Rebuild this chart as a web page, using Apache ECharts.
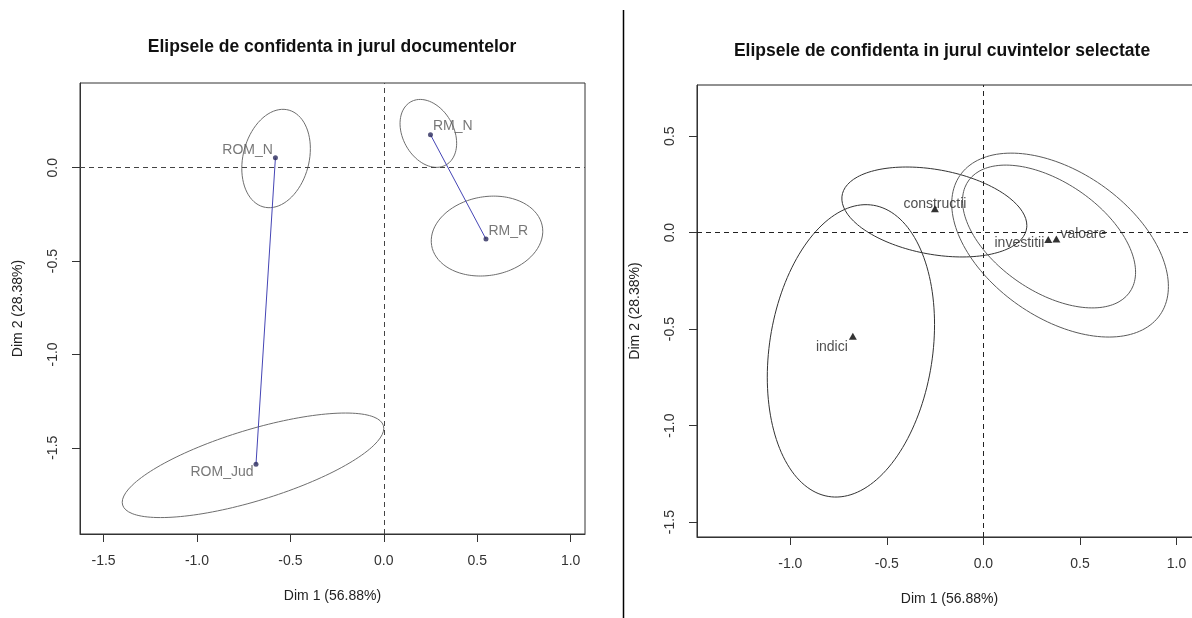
<!DOCTYPE html>
<html>
<head>
<meta charset="utf-8">
<script src="https://cdn.jsdelivr.net/npm/echarts@6/dist/echarts.min.js"></script>
<style>
html,body{margin:0;padding:0;background:#fff;overflow:hidden;width:1192px;height:618px;}
#c{width:1215px;height:618px;}
</style>
</head>
<body>
<div id="c"></div>
<script>
// ---------- Left panel: documents ----------
const docNames = ['ROM_N', 'RM_N', 'RM_R', 'ROM_Jud'];
const docDim1 = [-0.580, 0.250, 0.547, -0.684];
const docDim2 = [0.054, 0.177, -0.382, -1.589];
// confidence ellipses: centre, half-width, half-height, correlation
const docEllCx = [-0.5765, 0.2385, 0.5525, -0.700];
const docEllCy = [0.0495, 0.184, -0.366, -1.594];
const docEllHx = [0.1835, 0.1515, 0.2985, 0.700];
const docEllHy = [0.2635, 0.182, 0.214, 0.280];
const docEllR = [0.20, -0.29, 0.12, 0.707];
const docLinks = [['ROM_N', 'ROM_Jud'], ['RM_N', 'RM_R']];

// ---------- Right panel: selected words ----------
const wordNames = ['constructii', 'investitii', 'valoare', 'indici'];
const wordDim1 = [-0.251, 0.336, 0.378, -0.676];
const wordDim2 = [0.124, -0.036, -0.033, -0.537];
const wordEllCx = [-0.254, 0.340, 0.397, -0.686];
const wordEllCy = [0.107, -0.020, -0.0645, -0.6125];
const wordEllHx = [0.479, 0.448, 0.561, 0.433];
const wordEllHy = [0.233, 0.370, 0.4765, 0.7575];
const wordEllR = [-0.30, -0.50, -0.45, 0.18];

// ---------- Axis ticks & texts ----------
const xTicksLeft = [-1.5, -1.0, -0.5, 0.0, 0.5, 1.0];
const yTicksLeft = [-1.5, -1.0, -0.5, 0.0];
const xTicksRight = [-1.0, -0.5, 0.0, 0.5, 1.0];
const yTicksRight = [-1.5, -1.0, -0.5, 0.0, 0.5];
const titleLeft = 'Elipsele de confidenta in jurul documentelor';
const titleRight = 'Elipsele de confidenta in jurul cuvintelor selectate';
const xName = 'Dim 1 (56.88%)';
const yName = 'Dim 2 (28.38%)';

// ---------- helpers ----------
function ellipse(cx, cy, hx, hy, r) {
  const pts = [];
  const s = Math.sqrt(1 - r * r);
  const n = 160;
  for (let i = 0; i <= n; i++) {
    const t = 2 * Math.PI * i / n;
    pts.push([cx + hx * Math.cos(t), cy + hy * (r * Math.cos(t) + s * Math.sin(t))]);
  }
  return pts;
}
const FONT = "'Liberation Sans', Arial, sans-serif";

// label placement (styles)
const docLabelPos = {
  'ROM_N': {position: 'left', distance: 0, offset: [0, -8]},
  'RM_N': {position: 'right', distance: 0, offset: [0, -9]},
  'RM_R': {position: 'right', distance: 0, offset: [0, -8]},
  'ROM_Jud': {position: 'left', distance: 0, offset: [0, 8]}
};
const wordLabelPos = {
  'constructii': {position: 'inside', offset: [0, -5]},
  'investitii': {position: 'left', distance: 0, offset: [0, 4]},
  'valoare': {position: 'right', distance: 0, offset: [0, -5]},
  'indici': {position: 'left', distance: 1, offset: [0, 11]}
};

function valueAxis(gridIndex, min, max, ticks, isX) {
  const ax = {
    type: 'value', gridIndex, min, max,
    splitLine: {show: false},
    axisLine: {show: true, onZero: false, lineStyle: {color: '#333', width: 1}},
    axisTick: {show: true, inside: false, length: 8, customValues: ticks, lineStyle: {color: '#333', width: 1}},
    axisLabel: {
      show: true, customValues: ticks, formatter: v => Number(v).toFixed(1),
      color: '#333', fontFamily: FONT, fontSize: 14, margin: 20
    },
    name: isX ? xName : yName,
    nameLocation: 'middle',
    nameGap: 55,
    nameTextStyle: {color: '#222', fontFamily: FONT, fontSize: 14}
  };
  if (!isX) { ax.axisLabel.rotate = 90; ax.nameRotate = 90; }
  return ax;
}

const series = [];
const zeroLines = (color) => ({
  silent: true, symbol: 'none', animation: false,
  label: {show: false},
  lineStyle: {type: [5, 4], color, width: 1},
  data: [{xAxis: 0}, {yAxis: 0}]
});

// left ellipses
docNames.forEach((nm, i) => {
  series.push({
    type: 'line', xAxisIndex: 0, yAxisIndex: 0, showSymbol: false, silent: true,
    data: ellipse(docEllCx[i], docEllCy[i], docEllHx[i], docEllHy[i], docEllR[i]),
    lineStyle: {color: '#6e6e6e', width: 1}, animation: false, z: 2
  });
});
// left links
docLinks.forEach(pair => {
  const a = docNames.indexOf(pair[0]), b = docNames.indexOf(pair[1]);
  series.push({
    type: 'line', xAxisIndex: 0, yAxisIndex: 0, showSymbol: false, silent: true,
    data: [[docDim1[a], docDim2[a]], [docDim1[b], docDim2[b]]],
    lineStyle: {color: '#4545b5', width: 1}, animation: false, z: 3
  });
});
// left points
series.push({
  type: 'scatter', xAxisIndex: 0, yAxisIndex: 0, symbol: 'circle', symbolSize: 5,
  itemStyle: {color: '#2b2b5c'}, animation: false, z: 4,
  data: docNames.map((nm, i) => ({
    name: nm, value: [docDim1[i], docDim2[i]],
    label: Object.assign({show: true, formatter: '{b}', color: '#555', fontFamily: FONT, fontSize: 14}, docLabelPos[nm])
  })),
  markLine: zeroLines('#444')
});

// right ellipses
wordNames.forEach((nm, i) => {
  series.push({
    type: 'line', xAxisIndex: 1, yAxisIndex: 1, showSymbol: false, silent: true,
    data: ellipse(wordEllCx[i], wordEllCy[i], wordEllHx[i], wordEllHy[i], wordEllR[i]),
    lineStyle: {color: (i === 1 || i === 2) ? '#5a5a5a' : '#333', width: 1}, animation: false, z: 2
  });
});
// right points
series.push({
  type: 'scatter', xAxisIndex: 1, yAxisIndex: 1, symbol: 'triangle', symbolSize: [8, 7],
  itemStyle: {color: '#000'}, animation: false, z: 4,
  data: wordNames.map((nm, i) => ({
    name: nm, value: [wordDim1[i], wordDim2[i]],
    label: Object.assign({show: true, formatter: '{b}', color: '#222', fontFamily: FONT, fontSize: 14}, wordLabelPos[nm])
  })),
  markLine: zeroLines('#222')
});

const chart = echarts.init(document.getElementById('c'), null, {renderer: 'canvas'});
chart.setOption({
  backgroundColor: '#fff',
  animation: false,
  grid: [
    {left: 80, top: 83, width: 505, height: 451, show: true, borderColor: '#333', borderWidth: 1, backgroundColor: 'transparent', outerBoundsMode: 'none', containLabel: false},
    {left: 697, top: 85, width: 505, height: 452, show: true, borderColor: '#222', borderWidth: 1, backgroundColor: 'transparent', outerBoundsMode: 'none', containLabel: false}
  ],
  xAxis: [
    valueAxis(0, -1.626, 1.077, xTicksLeft, true),
    valueAxis(1, -1.483, 1.132, xTicksRight, true)
  ],
  yAxis: [
    valueAxis(0, -1.962, 0.454, yTicksLeft, false),
    valueAxis(1, -1.577, 0.765, yTicksRight, false)
  ],
  graphic: [
    {type: 'text', x: 332, y: 47, style: {text: titleLeft, align: 'center', verticalAlign: 'middle', fontFamily: FONT, fontWeight: 'bold', fontSize: 17.5, fill: '#111'}},
    {type: 'text', x: 942, y: 51, style: {text: titleRight, align: 'center', verticalAlign: 'middle', fontFamily: FONT, fontWeight: 'bold', fontSize: 17.5, fill: '#111'}},
    {type: 'line', shape: {x1: 623.5, y1: 10, x2: 623.5, y2: 618}, style: {stroke: '#000', lineWidth: 1.5}}
  ],
  series
});
</script>
</body>
</html>
